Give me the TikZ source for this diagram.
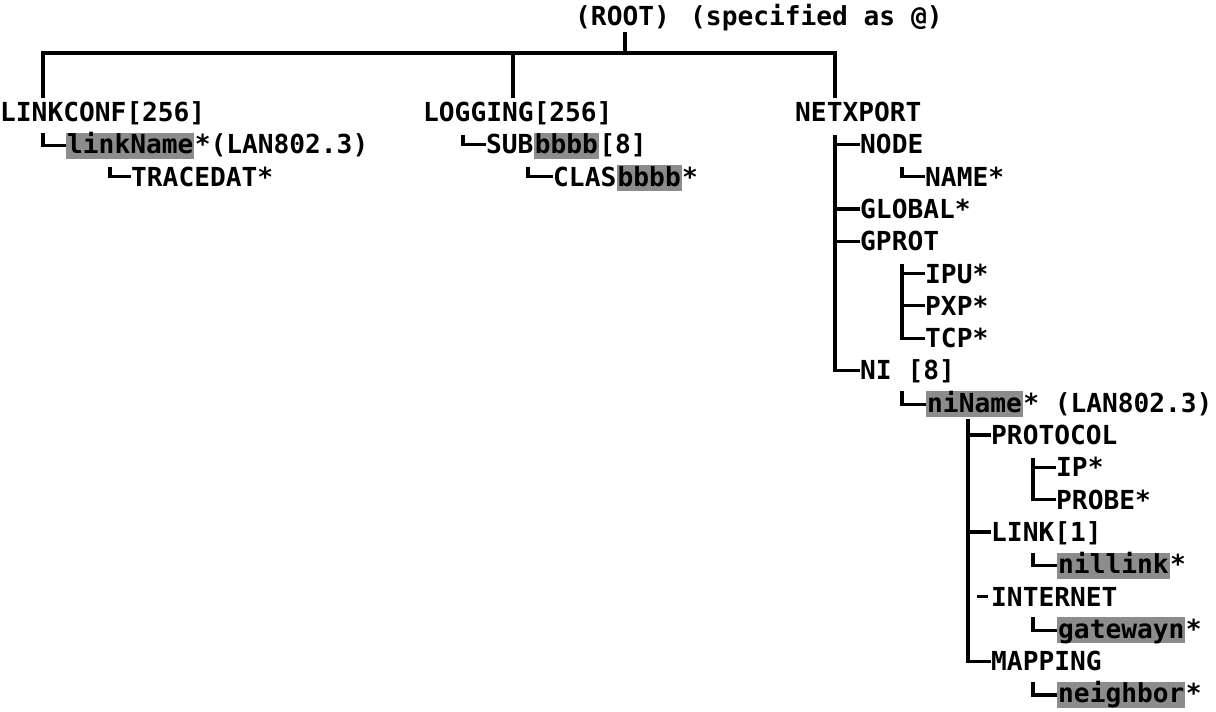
\documentclass[tikz,border=0pt]{standalone}
\usepackage{fontspec}
\newfontfamily\plotfont{DejaVu Sans Mono}
\begin{document}
\begin{tikzpicture}[x=1pt,y=-1pt,
  lbl/.style={anchor=base west,inner sep=0pt,text height=19pt,text depth=0pt,
    font=\plotfont\bfseries\fontsize{26.2}{30}\selectfont},
  hl/.style={lbl,fill=black!45,inner xsep=1pt,text height=21pt,text depth=5pt},
  tree/.style={line width=3.2pt,line join=miter}]
\useasboundingbox (0,0) rectangle (1216,712);

% vertical line positions
\coordinate (vL) at (43,0);
\coordinate (vTR) at (110,0);
\coordinate (vG) at (513,0);
\coordinate (vSUB) at (463,0);
\coordinate (vCL) at (528,0);
\coordinate (vN) at (835,0);
\coordinate (vGP) at (902,0);
\coordinate (vNIC) at (968,0);
\coordinate (vPR) at (1033,0);
\coordinate (bar) at (625,53);

% top
\node[lbl] (root) at (575,25) {(ROOT)};
\node[lbl] (spec) at (690,25) {(specified as @)};
\node[lbl] (lc) at (0,121.5) {LINKCONF[256]};
\node[lbl] (lg) at (423,121.5) {LOGGING[256]};
\node[lbl] (nx) at (795,121.5) {NETXPORT};

\draw[tree,shorten <=7pt] (bar |- root.south) -- (bar);
\draw[tree,shorten <=4pt,shorten >=4pt] (vL |- lc.north) |- (bar) -| (vN |- nx.north);
\draw[tree,shorten <=4pt] (vG |- lg.north) -- (vG |- bar);

% LINKCONF subtree
\node[hl] (lkn) at (66,153.8) {linkName};
\node[lbl] (lkx) at (lkn.base east) {*(LAN802.3)};
\node[lbl] (trc) at (131,186.1) {TRACEDAT*};
\draw[tree] (vL |- lkn.north) |- (lkn.west);
\draw[tree] (vTR |- trc.north) |- (trc.west);

% LOGGING subtree
\node[lbl] (sub) at (486,153.8) {SUB};
\node[hl] (subb) at (sub.base east) {bbbb};
\node[lbl] (sub8) at (subb.base east) {[8]};
\node[lbl] (clas) at (553,186.1) {CLAS};
\node[hl] (clasb) at (clas.base east) {bbbb};
\node[lbl] (clasx) at (clasb.base east) {*};
\draw[tree] (vSUB |- sub.north) |- (sub.west);
\draw[tree] (vCL |- clas.north) |- (clas.west);

% NETXPORT subtree
\node[lbl] (node) at (860,153.8) {NODE};
\node[lbl] (name) at (925,186.1) {NAME*};
\node[lbl] (glob) at (860,218.4) {GLOBAL*};
\node[lbl] (gprot) at (860,250.7) {GPROT};
\node[lbl] (ipu) at (925,283.0) {IPU*};
\node[lbl] (pxp) at (925,315.3) {PXP*};
\node[lbl] (tcp) at (925,347.6) {TCP*};
\node[lbl] (ni) at (860,379.9) {NI [8]};
\node[hl] (nin) at (926,412.2) {niName};
\node[lbl] (ninx) at (nin.base east) {* (LAN802.3)};
\node[lbl] (prot) at (991,444.5) {PROTOCOL};
\node[lbl] (ip) at (1056,476.8) {IP*};
\node[lbl] (probe) at (1056,509.1) {PROBE*};
\node[lbl] (link) at (991,541.4) {LINK[1]};
\node[hl] (nil) at (1057,573.7) {nillink};
\node[lbl] (nilx) at (nil.base east) {*};
\node[lbl] (inet) at (991,606.0) {INTERNET};
\node[hl] (gw) at (1057,638.3) {gatewayn};
\node[lbl] (gwx) at (gw.base east) {*};
\node[lbl] (map) at (991,670.6) {MAPPING};
\node[hl] (nb) at (1057,702.9) {neighbor};
\node[lbl] (nbx) at (nb.base east) {*};

\draw[tree] (vN |- node.north) |- (ni.west);
\draw[tree] (vN |- node.west) -- (node.west);
\draw[tree] (vN |- glob.west) -- (glob.west);
\draw[tree] (vN |- gprot.west) -- (gprot.west);
\draw[tree] (vGP |- name.north) |- (name.west);
\draw[tree] (vGP |- ipu.north) |- (tcp.west);
\draw[tree] (vGP |- ipu.west) -- (ipu.west);
\draw[tree] (vGP |- pxp.west) -- (pxp.west);
\draw[tree] (vGP |- nin.north) |- (nin.west);
\draw[tree,shorten <=2pt] (vNIC |- nin.south) |- (map.west);
\draw[tree] (vNIC |- prot.west) -- (prot.west);
\draw[tree] (vNIC |- link.west) -- (link.west);
\draw[tree] ([xshift=-14pt]inet.west) -- ([xshift=-3pt]inet.west);
\draw[tree] (vPR |- ip.north) |- (probe.west);
\draw[tree] (vPR |- ip.west) -- (ip.west);
\draw[tree] (vPR |- nil.north) |- (nil.west);
\draw[tree] (vPR |- gw.north) |- (gw.west);
\draw[tree] (vPR |- nb.north) |- (nb.west);
\end{tikzpicture}
\end{document}
